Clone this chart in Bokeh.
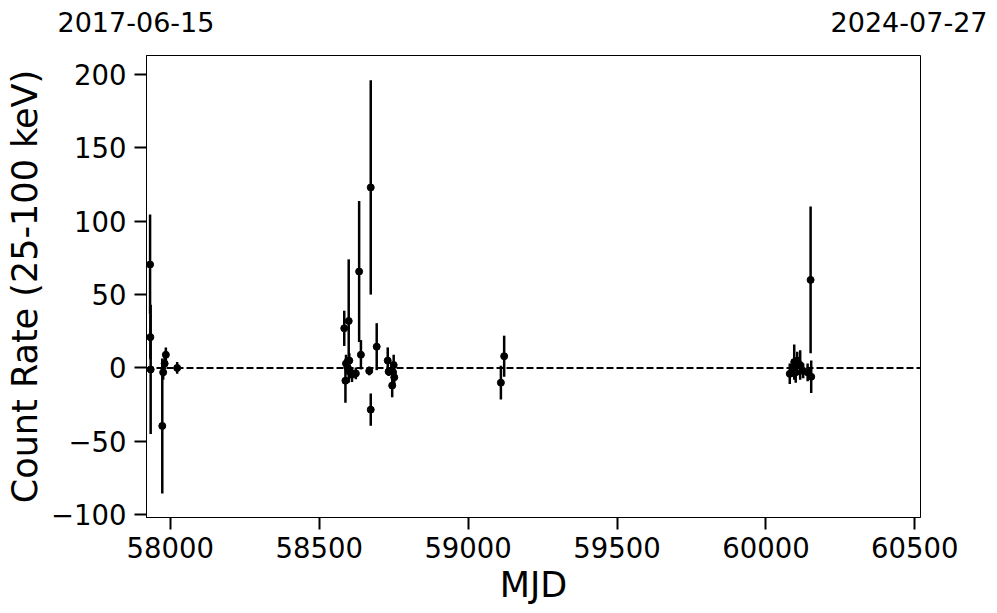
from bokeh.plotting import figure
from bokeh.layouts import column
from bokeh.models import Span, FixedTicker, Range1d
from bokeh.core.properties import value
from bokeh.embed import file_html
from bokeh.resources import INLINE

# Data (MJD, count rate 25-100 keV, 1-sigma error)
mjd = [57932, 57933, 57934, 57973, 57976, 57981, 57985, 58023,
       58584, 58588, 58590, 58595, 58599, 58601, 58605, 58610, 58623,
       58634, 58640, 58668, 58673, 58673, 58693,
       58730, 58733, 58745, 58748, 58750, 58752,
       59110, 59121,
       60080, 60090, 60095, 60100, 60105, 60115, 60125, 60140, 60150, 60152]
rate = [70.5, 21.0, -1.0, -39.5, -3.0, 3.0, 9.0, 0.0,
        27.0, -8.7, 3.0, 0.5, 32.0, 5.0, -3.0, -4.6, -3.7,
        65.7, 9.0, -2.0, 123.0, -28.4, 14.5,
        5.0, -2.5, -12.0, -3.0, 2.0, -6.4,
        -10.0, 8.0,
        -4.0, 0.0, 4.0, -3.0, 5.0, 2.0, -2.0, -3.0, 60.0, -6.0]
err = [34, 15, 44, 46, 5, 4, 5, 4,
       12, 15, 6, 5, 42, 5, 4, 5, 4,
       48, 10, 3, 73, 11, 16,
       9, 3, 8, 4, 7, 6,
       11.5, 14,
       7, 6, 12, 7, 6, 10, 5, 6, 50, 11]

x_ticks = [58000, 58500, 59000, 59500, 60000, 60500]
y_ticks = [-100, -50, 0, 50, 100, 150, 200]
start_date = "2017-06-15"
end_date = "2024-07-27"

W = 988
HEAD_H = 55
MAIN_H = 558

lo = [r - e for r, e in zip(rate, err)]
hi = [r + e for r, e in zip(rate, err)]

# Header strip carrying the two date texts (outside the main plot frame)
head = figure(width=W, height=HEAD_H, output_backend="svg", toolbar_location=None,
              x_range=Range1d(0, W), y_range=Range1d(0, HEAD_H),
              x_axis_location=None, y_axis_location=None, min_border=0,
              frame_align=False)
head.xgrid.visible = False
head.ygrid.visible = False
head.outline_line_color = None
head.text(x=[57], y=[HEAD_H - 21], text=[start_date], text_font=value("DejaVu Sans"),
          text_font_size="27px", text_align="left", text_baseline="alphabetic",
          text_color="black")
head.text(x=[987], y=[HEAD_H - 21], text=[end_date], text_font=value("DejaVu Sans"),
          text_font_size="27px", text_align="right", text_baseline="alphabetic",
          text_color="black")

p = figure(width=W, height=MAIN_H, output_backend="svg", toolbar_location=None,
           x_range=Range1d(57920, 60519), y_range=Range1d(-101.9, 212.9),
           min_border_left=146, min_border_right=68, min_border_top=0,
           min_border_bottom=96, frame_align=False)

p.segment(x0=mjd, y0=lo, x1=mjd, y1=hi, line_color="black", line_width=2.5)
p.scatter(x=mjd, y=rate, size=7, color="black")

p.add_layout(Span(location=0, dimension="width", line_color="black",
                  line_dash="7 3", line_width=2))

p.xgrid.visible = False
p.ygrid.visible = False
p.outline_line_color = "black"
p.outline_line_width = 1
p.background_fill_color = "white"
p.border_fill_color = "white"

for ax in (p.xaxis[0], p.yaxis[0]):
    ax.axis_line_color = "black"
    ax.axis_line_width = 1
    ax.major_tick_out = 12
    ax.major_tick_in = 0
    ax.major_tick_line_width = 2
    ax.major_tick_line_color = "black"
    ax.minor_tick_out = 0
    ax.minor_tick_in = 0
    ax.major_label_text_font = "DejaVu Sans"
    ax.major_label_text_font_size = "27.5px"
    ax.major_label_text_color = "black"
    ax.axis_label_text_font = "DejaVu Sans"
    ax.axis_label_text_font_size = "35px"
    ax.axis_label_text_font_style = "normal"
    ax.axis_label_text_color = "black"

p.xaxis.ticker = FixedTicker(ticks=x_ticks)
p.yaxis.ticker = FixedTicker(ticks=y_ticks)
p.yaxis.major_label_overrides = {t: (("\u2212" + str(-t)) if t < 0 else str(t)) for t in y_ticks}
p.xaxis.major_label_overrides = {t: str(t) for t in x_ticks}
p.xaxis.axis_label = "MJD"
p.yaxis.axis_label = "Count Rate (25-100 keV)"
p.xaxis.major_label_standoff = 7
p.yaxis.major_label_standoff = 8
p.xaxis.axis_label_standoff = 4
p.yaxis.axis_label_standoff = 3

layout = column(head, p, spacing=0)
open("out.html", "w").write(file_html(layout, INLINE))
